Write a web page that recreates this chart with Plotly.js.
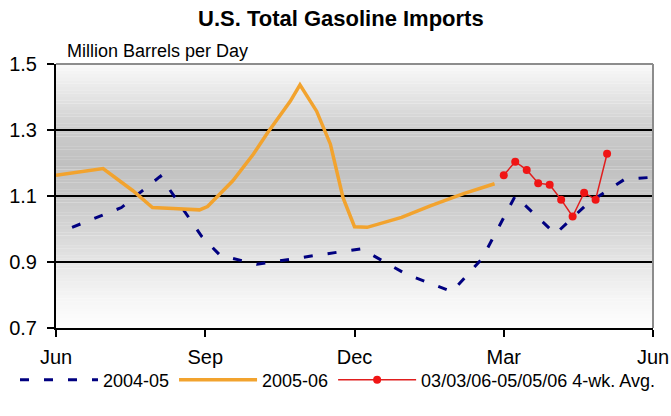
<!DOCTYPE html>
<html>
<head>
<meta charset="utf-8">
<script src="https://cdn.plot.ly/plotly-3.0.1.min.js"></script>
<style>html,body{margin:0;padding:0;background:#fff;}#chart{width:671px;height:416px;}</style>
</head>
<body>
<div id="chart"></div>
<script>
// x = weeks since the start of June (Jun=0, Sep=13, Dec=26, Mar=39, Jun=52)
var monthTickWeeks = [0, 13, 26, 39, 52];
var monthTickLabels = ["Jun", "Sep", "Dec", "Mar", "Jun"];
var yTicks = [0.7, 0.9, 1.1, 1.3, 1.5];

var weeks0405 = [1.4, 5.7, 9.1, 12.7, 14.3, 17.5, 22.6, 26.6, 30.5, 34.5, 37.1, 40.0, 43.5, 46.3, 49.5, 52];
var imports0405 = [1.005, 1.065, 1.16, 0.977, 0.92, 0.893, 0.92, 0.94, 0.863, 0.81, 0.91, 1.10, 0.985, 1.077, 1.15, 1.157];

var weeks0506 = [0, 4.1, 6.7, 8.4, 10.2, 12.5, 13.2, 15.4, 17.2, 18.4, 20.4, 21.25, 22.7, 23.9, 25.0, 26.0, 27.1, 30.1, 32.6, 35.5, 38.2];
var imports0506 = [1.163, 1.183, 1.116, 1.065, 1.062, 1.058, 1.068, 1.146, 1.227, 1.29, 1.387, 1.437, 1.357, 1.257, 1.095, 1.007, 1.005, 1.035, 1.07, 1.107, 1.137];

var weeksAvg = [39, 40, 41, 42, 43, 44, 45, 46, 47, 48];
var importsAvg = [1.163, 1.204, 1.179, 1.139, 1.134, 1.089, 1.038, 1.110, 1.089, 1.228];

// background gradient bands (decoration)
function shade(v) {
  var stops = [[0.7, 254], [0.8, 244], [0.9, 229], [1.0, 213], [1.1, 200], [1.2, 192], [1.3, 204], [1.4, 228], [1.5, 249]];
  for (var i = 0; i < stops.length - 1; i++) {
    if (v >= stops[i][0] && v <= stops[i + 1][0]) {
      var t = (v - stops[i][0]) / (stops[i + 1][0] - stops[i][0]);
      return Math.round(stops[i][1] + t * (stops[i + 1][1] - stops[i][1]));
    }
  }
  return 255;
}
var shapes = [];
var nb = 80;
for (var i = 0; i < nb; i++) {
  var y0 = 0.7 + i * 0.8 / nb, y1 = 0.7 + (i + 1) * 0.8 / nb;
  var g = shade((y0 + y1) / 2);
  shapes.push({type: "rect", xref: "paper", yref: "y", x0: 0, x1: 1, y0: y0, y1: y1 + 0.0005,
    fillcolor: "rgb(" + g + "," + g + "," + g + ")", line: {width: 0}, layer: "below"});
}
shapes.push({type: "line", xref: "paper", yref: "paper", x0: 0, x1: 1, y0: 1, y1: 1, line: {color: "#8c8c8c", width: 2}, layer: "above"});
shapes.push({type: "line", xref: "paper", yref: "paper", x0: 1, x1: 1, y0: 0, y1: 1, line: {color: "#8c8c8c", width: 2}, layer: "above"});

var traces = [
  {x: weeks0405, y: imports0405, name: "2004-05", type: "scatter", mode: "lines",
   line: {color: "#000080", width: 3, dash: "9px,15px"}, hoverinfo: "skip"},
  {x: weeks0506, y: imports0506, name: "2005-06", type: "scatter", mode: "lines",
   line: {color: "#F2A32E", width: 3.5}, hoverinfo: "skip"},
  {x: weeksAvg, y: importsAvg, name: "03/03/06-05/05/06 4-wk. Avg.", type: "scatter", mode: "lines+markers",
   line: {color: "#E01E1E", width: 1.5}, marker: {color: "#F01515", size: 8}, hoverinfo: "skip"}
];

var layout = {
  width: 671, height: 416,
  margin: {l: 56, r: 18, t: 64, b: 88},
  paper_bgcolor: "#ffffff", plot_bgcolor: "#ffffff",
  font: {family: "Liberation Sans, Arial, sans-serif", color: "#000"},
  title: {text: "<b>U.S. Total Gasoline Imports</b>", font: {size: 22, family: "Liberation Sans, Arial, sans-serif", color: "#000"},
    x: 0.508, xanchor: "center", xref: "container", y: 0.975, yanchor: "top"},
  xaxis: {range: [0, 52], tickmode: "array", tickvals: monthTickWeeks, ticktext: monthTickLabels,
    showgrid: false, zeroline: false, showline: true, linecolor: "#000", linewidth: 2,
    ticks: "outside", ticklen: 7, tickwidth: 2, tickcolor: "#000", tickfont: {size: 20},
    ticklabelstandoff: 3, fixedrange: true},
  yaxis: {range: [0.7, 1.5], tickmode: "array", tickvals: yTicks, ticktext: ["0.7", "0.9", "1.1", "1.3", "1.5"],
    showgrid: true, gridcolor: "#000", gridwidth: 1.5, zeroline: false, showline: true, linecolor: "#000", linewidth: 2,
    ticks: "outside", ticklen: 7, tickwidth: 2, tickcolor: "#000", tickfont: {size: 20},
    ticklabelstandoff: 6, fixedrange: true},
  shapes: shapes,
  annotations: [{text: "Million Barrels per Day", xref: "paper", yref: "paper", x: 0.015, y: 1, xanchor: "left", yanchor: "bottom",
    yshift: 1, showarrow: false, font: {size: 18, color: "#000"}}],
  showlegend: true,
  legend: {orientation: "h", xref: "paper", yref: "paper", x: -0.0687, y: -0.197, xanchor: "left", yanchor: "middle",
    font: {size: 18, color: "#000"}, itemwidth: 78, tracegroupgap: 0, bgcolor: "rgba(0,0,0,0)", borderwidth: 0}
};

Plotly.newPlot("chart", traces, layout, {displayModeBar: false, staticPlot: true});
</script>
</body>
</html>
